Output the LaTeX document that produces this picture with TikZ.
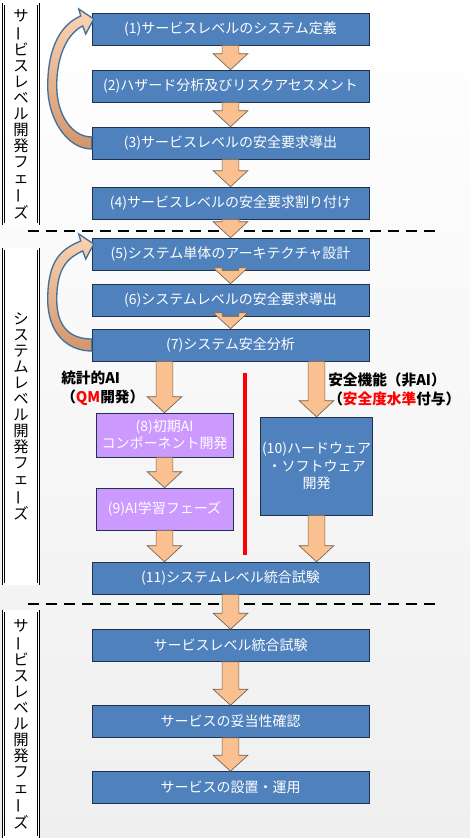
\documentclass[tikz,border=0pt]{standalone}
\usepackage{fontspec}
\setmainfont{Noto Sans CJK JP}
\usetikzlibrary{calc,positioning}
\definecolor{StepBlue}{HTML}{4F81BD}
\definecolor{StepEdge}{HTML}{1F3350}
\definecolor{AIPurple}{HTML}{CC99FF}
\definecolor{FlowOrange}{HTML}{FAC090}
\definecolor{FlowEdge}{HTML}{6F6357}
\definecolor{LoopEdge}{HTML}{41719C}
\definecolor{LoopLight}{HTML}{FBD4B4}
\definecolor{LoopDark}{HTML}{D4956A}
\definecolor{Paper}{HTML}{EFEFEF}
\definecolor{Alert}{HTML}{FF0000}

\tikzset{
  stepbox/.style={draw=StepEdge,fill=StepBlue,text=white,minimum width=207.75pt,minimum height=24pt,
    inner sep=1pt,align=center,font=\fontsize{10.5}{13}\selectfont},
  aibox/.style={stepbox,fill=AIPurple,minimum width=102.75pt},
  phasebox/.style={draw=black,double=white,double distance=1.2pt,fill=white,minimum width=26pt,
    inner sep=0pt,align=center,font=\fontsize{11.5}{12}\selectfont},
  flowarrow/.style={draw=FlowEdge,fill=FlowOrange,line width=.5pt},
  loopback/.style={draw=LoopEdge,line width=1pt,top color=LoopLight,bottom color=LoopDark},
  phaseline/.style={line width=2.2pt,dash pattern=on 8pt off 5.5pt},
  note/.style={align=left,inner sep=0pt,anchor=north west,font=\fontsize{11}{14}\selectfont\bfseries}
}
% long vowel mark in vertical writing
\newcommand\chouon{\rotatebox[origin=c]{90}{ー}}
% block arrow: from, to, node giving the x
\newcommand\flowarrow[3]{%
  \path[flowarrow] let \p1=(#1.south), \p2=(#2.north), \p3=(#3.center) in
    (\x3-6.3pt,\y1) -- (\x3-6.3pt,\y2+12pt) -- (\x3-13pt,\y2+12pt) -- (\x3,\y2)
    -- (\x3+13pt,\y2+12pt) -- (\x3+6.3pt,\y2+12pt) -- (\x3+6.3pt,\y1) -- cycle;}
% curved feedback arrow from the west side of #1 back to #2
\newcommand\loopback[2]{%
  \path[loopback] let \p1=(#1.west), \p2=(#2.west), \p3=($(#1.west)!.5!(#2.west)$) in
    (\x1,\y1+4.5pt) .. controls (\x1-14.25pt,\y1+4.5pt) and (\x1-26.25pt,\y3-22.5pt) .. (\x1-26.25pt,\y3)
    .. controls (\x1-26.25pt,\y3+25.5pt) and (\x1-16.5pt,\y2-2.25pt) .. (\x1-6.75pt,\y2+2.25pt)
    -- (\x1-4.5pt,\y2-3.75pt) -- (\x1+1.5pt,\y2+7.5pt) -- (\x1-9.75pt,\y2+15pt) -- (\x1-8.25pt,\y2+9.75pt)
    .. controls (\x1-22.5pt,\y2+3.75pt) and (\x1-33pt,\y3+30pt) .. (\x1-33pt,\y3)
    .. controls (\x1-33pt,\y3-25.5pt) and (\x1-18pt,\y1-4.5pt) .. (\x1,\y1-4.5pt) -- cycle;}

\begin{document}
\begin{tikzpicture}[x=0.75pt,y=-0.75pt]
  \shade[top color=white,bottom color=Paper] (0,0) rectangle (470,838);
  \useasboundingbox (0,0) rectangle (470,838);

  % phases
  \node[phasebox,minimum height=165pt] (ph1) at (21,114)
    {サ\\\chouon\\ビ\\ス\\レ\\ベ\\ル\\開\\発\\フ\\ェ\\\chouon\\ズ};
  \node[phasebox,minimum height=251.25pt] (ph2) at (21,416.5)
    {シ\\ス\\テ\\ム\\レ\\ベ\\ル\\開\\発\\フ\\ェ\\\chouon\\ズ};
  \node[phasebox,minimum height=169.5pt] (ph3) at (21,724)
    {サ\\\chouon\\ビ\\ス\\レ\\ベ\\ル\\開\\発\\フ\\ェ\\\chouon\\ズ};

  \draw[phaseline] (28,231) -- (438,231);
  \draw[phaseline] (28,604) -- (439,604);

  % steps
  \node[stepbox] (s1) at (230.5,29) {(1)サービスレベルのシステム定義};
  \node[stepbox] (s2) at (230.5,86) {(2)ハザード分析及びリスクアセスメント};
  \node[stepbox] (s3) at (230.5,143) {(3)サービスレベルの安全要求導出};
  \node[stepbox] (s4) at (230.5,203) {(4)サービスレベルの安全要求割り付け};
  \node[stepbox] (s5) at (230.5,254) {(5)システム単体のアーキテクチャ設計};
  \node[stepbox] (s6) at (230.5,300) {(6)システムレベルの安全要求導出};
  \node[stepbox] (s7) at (230.5,345) {(7)システム安全分析};
  \node[aibox,minimum height=33pt] (s8) at (164.5,435) {(8)初期AI\\コンポーネント開発};
  \node[aibox,minimum height=31.5pt] (s9) at (164.5,509) {(9)AI学習フェーズ};
  \node[stepbox,minimum width=81.75pt,minimum height=73.5pt] (s10) at (316.5,466)
    {(10)ハードウェア\\・ソフトウェア\\開発};
  \node[stepbox] (s11) at (230.5,578) {(11)システムレベル統合試験};
  \node[stepbox] (s12) at (230.5,645.5) {サービスレベル統合試験};
  \node[stepbox] (s13) at (230.5,721.5) {サービスの妥当性確認};
  \node[stepbox] (s14) at (230.5,787.5) {サービスの設置・運用};

  \draw[Alert,line width=3pt] (245,373) -- (245,555);

  \node[note] (aiNote) at (61,371) {統計的AI\\（{\color{Alert}QM}開発）};
  \node[note] (safeNote) at (328,373) {安全機能（非AI）\\（{\color{Alert}安全度水準}付与）};

  \flowarrow{s1}{s2}{s1}
  \flowarrow{s2}{s3}{s2}
  \flowarrow{s3}{s4}{s3}
  \flowarrow{s4}{s5}{s4}
  \flowarrow{s5}{s6}{s5}
  \flowarrow{s6}{s7}{s6}
  \flowarrow{s7}{s8}{s8}
  \flowarrow{s7}{s10}{s10}
  \flowarrow{s8}{s9}{s8}
  \flowarrow{s9}{s11}{s9}
  \flowarrow{s10}{s11}{s10}
  \flowarrow{s11}{s12}{s11}
  \flowarrow{s12}{s13}{s12}
  \flowarrow{s13}{s14}{s13}

  \loopback{s3}{s1}
  \loopback{s7}{s5}
\end{tikzpicture}
\end{document}
